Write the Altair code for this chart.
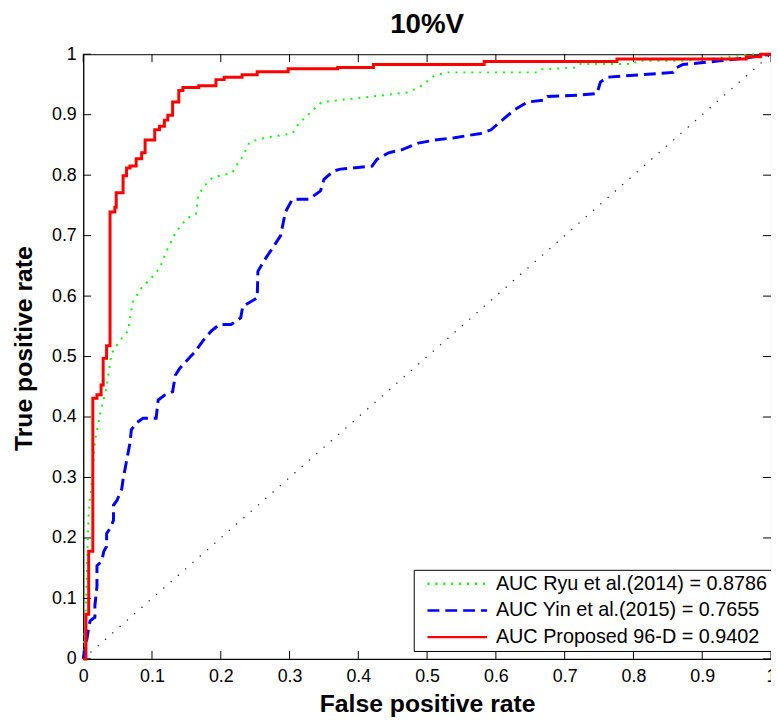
import altair as alt
import pandas as pd

# ---- data ----
series_names = [
    "AUC Ryu et al.(2014) = 0.8786",
    "AUC Yin et al.(2015) = 0.7655",
    "AUC Proposed 96-D = 0.9402",
]

ryu_fpr = [0, 0.004, 0.006, 0.008, 0.013, 0.017, 0.025, 0.034, 0.041, 0.053, 0.065, 0.072,
           0.085, 0.099, 0.111, 0.123, 0.135, 0.15, 0.164, 0.167, 0.176, 0.188, 0.217, 0.222,
           0.232, 0.242, 0.265, 0.304, 0.314, 0.347, 0.38, 0.42, 0.473, 0.492, 0.511, 0.53,
           0.66, 0.665, 0.718, 0.723, 0.8, 0.805, 0.868, 0.925, 0.97, 1.0]
ryu_tpr = [0, 0.09, 0.17, 0.24, 0.30, 0.36, 0.407, 0.45, 0.505, 0.526, 0.542, 0.59,
           0.614, 0.63, 0.646, 0.679, 0.706, 0.728, 0.736, 0.766, 0.782, 0.796, 0.804, 0.815,
           0.831, 0.855, 0.862, 0.869, 0.886, 0.921, 0.925, 0.93, 0.937, 0.948, 0.965, 0.97,
           0.97, 0.975, 0.978, 0.984, 0.984, 0.989, 0.989, 0.994, 1.0, 1.0]

yin_fpr = [0, 0.005, 0.008, 0.01, 0.017, 0.017, 0.02, 0.02, 0.027, 0.03, 0.034, 0.034, 0.039,
           0.044, 0.044, 0.049, 0.056, 0.058, 0.063, 0.068, 0.07, 0.077, 0.087, 0.106, 0.109,
           0.118, 0.13, 0.134, 0.14, 0.155, 0.162, 0.174, 0.186, 0.198, 0.215, 0.229, 0.232,
           0.241, 0.253, 0.254, 0.265, 0.275, 0.287, 0.294, 0.304, 0.328, 0.345, 0.35, 0.364,
           0.374, 0.42, 0.427, 0.444, 0.463, 0.487, 0.511, 0.54, 0.578, 0.593, 0.607, 0.627,
           0.646, 0.67, 0.675, 0.718, 0.747, 0.752, 0.762, 0.858, 0.863, 0.872, 0.925, 0.964, 1.0]
yin_tpr = [0, 0.03, 0.052, 0.063, 0.069, 0.088, 0.12, 0.154, 0.162, 0.178, 0.186, 0.207, 0.216,
           0.229, 0.254, 0.262, 0.281, 0.297, 0.327, 0.357, 0.379, 0.39, 0.398, 0.398, 0.428,
           0.436, 0.442, 0.469, 0.48, 0.499, 0.507, 0.526, 0.542, 0.553, 0.553, 0.564, 0.583,
           0.589, 0.597, 0.641, 0.662, 0.679, 0.7, 0.739, 0.76, 0.76, 0.774, 0.793, 0.807,
           0.81, 0.815, 0.826, 0.837, 0.842, 0.853, 0.858, 0.862, 0.869, 0.875, 0.889, 0.908,
           0.921, 0.924, 0.93, 0.932, 0.935, 0.954, 0.962, 0.97, 0.978, 0.983, 0.989, 0.994, 1.0]

# proposed: points where each vertical jump ends (drawn as step-after)
prop_fpr = [0, 0.004, 0.008, 0.014, 0.02, 0.026, 0.029, 0.034, 0.039, 0.046, 0.048, 0.058,
            0.063, 0.068, 0.077, 0.085, 0.09, 0.104, 0.111, 0.118, 0.123, 0.13, 0.139, 0.145,
            0.168, 0.193, 0.205, 0.231, 0.253, 0.298, 0.37, 0.422, 0.583, 0.776, 0.964, 0.985, 1.0]
prop_tpr = [0, 0.074, 0.178, 0.431, 0.437, 0.453, 0.497, 0.518, 0.739, 0.747, 0.771, 0.799,
            0.812, 0.815, 0.827, 0.837, 0.858, 0.875, 0.881, 0.891, 0.899, 0.921, 0.94, 0.945,
            0.948, 0.958, 0.962, 0.966, 0.971, 0.976, 0.978, 0.983, 0.988, 0.992, 0.996, 1.0, 1.0]

diag_vals = [0, 1]
tick_vals = [0, 0.1, 0.2, 0.3, 0.4, 0.5, 0.6, 0.7, 0.8, 0.9, 1.0]

colors = ["#00ff00", "#0000ff", "#ff0000"]
dashes = [[2, 6], [12, 6], [1, 0]]

W, H = 695, 611
FONT = "Liberation Sans"

ryu_df = pd.DataFrame({"fpr": ryu_fpr, "tpr": ryu_tpr, "series": series_names[0]})
yin_df = pd.DataFrame({"fpr": yin_fpr, "tpr": yin_tpr, "series": series_names[1]})
prop_df = pd.DataFrame({"fpr": prop_fpr, "tpr": prop_tpr, "series": series_names[2]})
diag_df = pd.DataFrame({"fpr": diag_vals, "tpr": diag_vals})
xt_df = pd.DataFrame({"fpr": tick_vals})
yt_df = pd.DataFrame({"tpr": tick_vals})

xscale = alt.Scale(domain=[0, 1], nice=False, zero=False)
yscale = alt.Scale(domain=[0, 1], nice=False, zero=False)

xaxis = alt.Axis(values=tick_vals, format="~g", grid=False, ticks=False, tickSize=0,
                 labelPadding=23, labelBaseline="alphabetic", labelFontSize=18,
                 title="False positive rate", titleFontSize=25, titleFontWeight="bold",
                 titleX=W / 2, titleY=53, titleBaseline="alphabetic", titleAlign="center",
                 labelFlush=False)
yaxis = alt.Axis(values=tick_vals, format="~g", grid=False, ticks=False, tickSize=0,
                 labelPadding=7, labelFontSize=18,
                 title="True positive rate", titleFontSize=25, titleFontWeight="bold",
                 titleX=-52, titleY=297, titleBaseline="alphabetic", titleAlign="center",
                 titleAngle=270, labelFlush=False)

diag = alt.Chart(diag_df).mark_line(color="#222222", strokeWidth=1.3, strokeDash=[1.3, 8.5]).encode(
    x=alt.X("fpr:Q", scale=xscale, axis=xaxis),
    y=alt.Y("tpr:Q", scale=yscale, axis=yaxis),
)

color_enc = alt.Color("series:N", scale=alt.Scale(domain=series_names, range=colors),
                      legend=alt.Legend(title=None))
dash_enc = alt.StrokeDash("series:N", scale=alt.Scale(domain=series_names, range=dashes),
                          legend=alt.Legend(title=None))

def series_layer(df, width, interp):
    return alt.Chart(df).mark_line(strokeWidth=width, interpolate=interp).encode(
        x="fpr:Q", y="tpr:Q", color=color_enc, strokeDash=dash_enc
    )

ryu = series_layer(ryu_df, 2, "linear")
yin = series_layer(yin_df, 3, "linear")
prop = series_layer(prop_df, 3, "step-after")

tb = alt.Chart(xt_df).mark_rule(color="black", strokeWidth=1).encode(
    x="fpr:Q", y=alt.value(H), y2=alt.value(H - 8))
tt = alt.Chart(xt_df).mark_rule(color="black", strokeWidth=1).encode(
    x="fpr:Q", y=alt.value(0), y2=alt.value(8))
tl = alt.Chart(yt_df).mark_rule(color="black", strokeWidth=1).encode(
    y="tpr:Q", x=alt.value(0), x2=alt.value(8))
tr = alt.Chart(yt_df).mark_rule(color="black", strokeWidth=1).encode(
    y="tpr:Q", x=alt.value(W), x2=alt.value(W - 8))

chart = alt.layer(diag, tb, tt, tl, tr, ryu, yin, prop).properties(
    width=W, height=H,
    title=alt.TitleParams("10%V", fontSize=28, font=FONT, fontWeight="bold", color="black",
                          anchor="middle", frame="group", offset=6),
    autosize=alt.AutoSizeParams(type="none"),
    padding={"left": 76, "top": 43, "right": 0, "bottom": 55},
).configure_view(
    stroke="black", strokeWidth=1
).configure_axis(
    labelFont=FONT, titleFont=FONT, labelColor="black", titleColor="black",
    domainColor="black", domainWidth=1,
).configure_legend(
    orient="none", legendX=334, legendY=521,
    strokeColor="black", fillColor="white", padding=4, rowPadding=7,
    symbolType="M-4.3,0L4.3,0", symbolSize=196, symbolStrokeWidth=2.5,
    symbolOffset=30,
    labelFont=FONT, labelFontSize=20, labelColor="black", labelOffset=29,
    labelLimit=400, cornerRadius=0,
)

chart.save("out.html", embed_options={"renderer": "svg", "actions": False})
